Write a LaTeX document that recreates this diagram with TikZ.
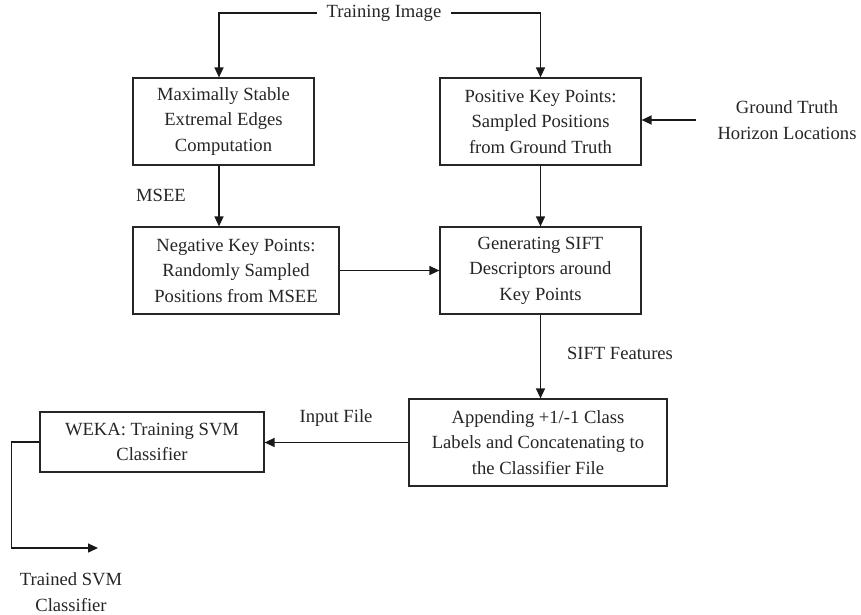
\documentclass[tikz,border=0pt]{standalone}
\usepackage{fontspec}
\setmainfont{Liberation Serif}
\usetikzlibrary{arrows.meta}
\begin{document}
\begin{tikzpicture}[x=1pt,y=-1pt,
  every node/.style={font=\fontsize{18.6}{25.5}\selectfont, text=black!85},
  box/.style={draw=black!85, line width=1.2pt, align=center, inner sep=0pt, minimum height=87pt},
  lbl/.style={align=center, inner sep=0pt},
  arr/.style={draw=black!90, line width=1.3pt, -{Triangle[length=10pt,width=9pt]}},
  plain/.style={draw=black!90, line width=1.3pt}]
\useasboundingbox[fill=white] (0,0) rectangle (861,614);

% processing steps
\node[box, minimum width=181pt] (A) at (223.5,121.5) {Maximally Stable\\Extremal Edges\\Computation};
\node[box, minimum width=201pt] (B) at (540.5,121.5) {Positive Key Points:\\Sampled Positions\\from Ground Truth};
\node[box, minimum width=206pt] (C) at (236,270.5) {Negative Key Points:\\Randomly Sampled\\Positions from MSEE};
\node[box, minimum width=201pt] (D) at (540.5,270.5) {Generating SIFT\\Descriptors around\\Key Points};
\node[box, minimum width=258pt] (E) at (538,442.5) {Appending +1/-1 Class\\Labels and Concatenating to\\the Classifier File};
\node[box, minimum width=224pt, minimum height=60pt] (F) at (152,442) {WEKA: Training SVM\\Classifier};

% inputs, outputs and edge labels
\node[lbl, inner xsep=10pt] (ti) at (384,13) {Training Image};
\node[lbl, inner xsep=21pt] (gt) at (787,120) {Ground Truth\\Horizon Locations};
\node[lbl] (msee) at (161,195) {MSEE};
\node[lbl] (sf) at (620,353) {SIFT Features};
\node[lbl] (inf) at (336,418) {Input File};
\node[lbl] (tr) at (71,592) {Trained SVM\\Classifier};
\coordinate (colL) at (219,0);
\coordinate (out) at (98,548);

% connectors
\draw[arr] (ti.west) -| (A.north -| colL);
\draw[arr] (ti.east) -| (B.north);
\draw[arr] (gt.west) -- (gt.west -| B.east);
\draw[arr] (A.south -| colL) -- (C.north -| colL);
\draw[arr] (B.south) -- (D.north);
\draw[arr] (C.east |- D.west) -- (D.west);
\draw[arr] (D.south) -- (D.south |- E.north);
\draw[arr] (E.west) -- (E.west -| F.east);
\draw[arr] (F.west) -- ++(-28,0) |- (out);
\end{tikzpicture}
\end{document}
